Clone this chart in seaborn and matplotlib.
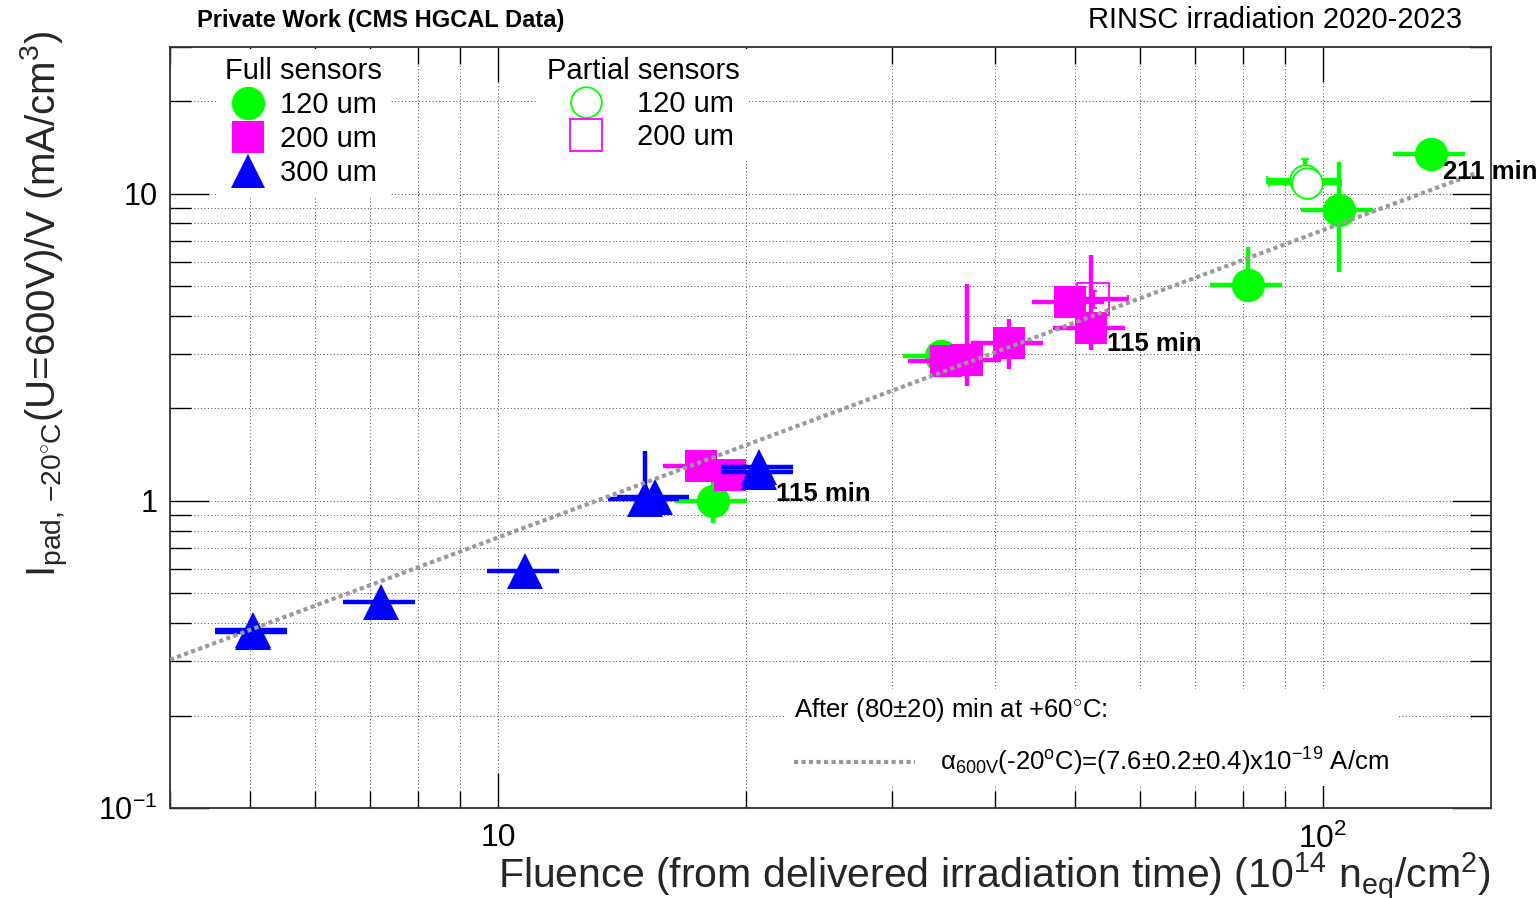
import numpy as np
import matplotlib
matplotlib.use('Agg')
import matplotlib.pyplot as plt
from matplotlib.lines import Line2D
from matplotlib.ticker import LogLocator, NullFormatter, FixedLocator, FixedFormatter
import seaborn as sns

# ---------------- data ----------------
# Full sensors, 120 um (filled green circles)
full120_x = [18.2, 34.4, 81.1, 104.6, 135.2]
full120_y = [1.00, 2.96, 5.03, 8.87, 13.5]
full120_ylo = [0.15, 0.20, 0.40, 3.33, 0.80]
full120_yhi = [0.15, 0.20, 1.67, 3.83, 0.80]

# Full sensors, 200 um (filled magenta squares)
full200_x = [17.6, 19.1, 34.9, 37.0, 41.6, 49.3, 52.3]
full200_y = [1.30, 1.21, 2.85, 2.87, 3.26, 4.43, 3.65]
full200_ylo = [0.08, 0.08, 0.15, 0.51, 0.58, 0.30, 0.55]
full200_yhi = [0.08, 0.08, 0.15, 2.20, 0.64, 0.30, 2.65]

# Full sensors, 300 um (filled blue triangles)
full300_x = [5.04, 5.04, 7.21, 10.78, 15.08, 15.5, 20.7, 20.7]
full300_y = [0.381, 0.374, 0.470, 0.593, 1.015, 1.03, 1.29, 1.24]
full300_ylo = [0.01, 0.01, 0.01, 0.01, 0.03, 0.03, 0.03, 0.03]
full300_yhi = [0.01, 0.01, 0.01, 0.01, 0.435, 0.03, 0.03, 0.03]

# Partial sensors, 120 um (open green circles)
part120_x = [95.2, 95.6]
part120_y = [11.1, 10.8]
part120_ylo = [0.5, 0.5]
part120_yhi = [1.9, 0.5]

# Partial sensors, 200 um (open magenta squares)
part200_x = [52.7]
part200_y = [4.53]
part200_ylo = [0.3]
part200_yhi = [0.3]

# relative fluence uncertainty of every point
fluence_rel_err = 0.10

# fit: alpha_600V = 7.6e-19 A/cm  ->  I/V [mA/cm^3] = 0.076 * Phi [1e14]
fit_x = [4.0, 153.5]
fit_y = [0.304, 11.67]

ann_text = ['211 min', '115 min', '115 min']
ann_x = [140.0, 54.8, 21.7]
ann_y = [11.8, 3.23, 1.053]

x_ticks = [10, 100]
x_ticklabels = ['10', r'$\mathrm{10^{2}}$']
y_ticks = [0.1, 1, 10]
y_ticklabels = [r'$\mathrm{10^{-1}}$', '1', '10']

GREEN = '#00ff00'
MAGENTA = '#ff00ff'
BLUE = '#0000ff'
GRAY = '#999999'

# ---------------- style ----------------
sns.set_theme(style='white')
plt.rcParams['font.family'] = ['Liberation Sans', 'DejaVu Sans']
plt.rcParams['mathtext.fontset'] = 'custom'
plt.rcParams['mathtext.rm'] = 'Liberation Sans'
plt.rcParams['mathtext.it'] = 'Liberation Sans:italic'
plt.rcParams['mathtext.bf'] = 'Liberation Sans:bold'
plt.rcParams['text.color'] = 'black'

fig = plt.figure(figsize=(15.39, 8.98), dpi=100)
ax = fig.add_axes([0.1105, 0.1002, 0.8584, 0.8474])
ax.set_xscale('log')
ax.set_yscale('log')
ax.set_xlim(4, 160)
ax.set_ylim(0.1, 30)


def draw(x, y, ylo, yhi, marker, color, ms, mfc, z, mew=0.0):
    x = np.asarray(x, dtype=float)
    ax.errorbar(x, y, xerr=x * fluence_rel_err, yerr=[ylo, yhi], fmt=marker,
                color=color, ms=ms, mfc=mfc, mec=color, mew=mew,
                elinewidth=3.2, capsize=3, capthick=2, zorder=z, ls='none')


draw(full120_x, full120_y, full120_ylo, full120_yhi, 'o', GREEN, 24, GREEN, 3)
draw(full200_x, full200_y, full200_ylo, full200_yhi, 's', MAGENTA, 23, MAGENTA, 4)
draw(full300_x, full300_y, full300_ylo, full300_yhi, '^', BLUE, 26, BLUE, 5)
draw(part120_x, part120_y, part120_ylo, part120_yhi, 'o', GREEN, 22, 'white', 4.5, mew=1.3)
draw(part200_x, part200_y, part200_ylo, part200_yhi, 's', MAGENTA, 23, 'none', 4.6, mew=1.3)

sns.lineplot(x=fit_x, y=fit_y, ax=ax, color=GRAY, lw=3.0, zorder=7)
ax.lines[-1].set_linestyle((0, (1, 0.8)))

for t, xx, yy in zip(ann_text, ann_x, ann_y):
    ax.text(xx, yy, t, fontsize=18.5, fontweight='bold', ha='left', va='center', zorder=8)

# ---------------- axes ----------------
ax.xaxis.set_major_locator(FixedLocator(x_ticks))
ax.xaxis.set_major_formatter(FixedFormatter(x_ticklabels))
ax.yaxis.set_major_locator(FixedLocator(y_ticks))
ax.yaxis.set_major_formatter(FixedFormatter(y_ticklabels))
for axis in (ax.xaxis, ax.yaxis):
    axis.set_minor_locator(LogLocator(base=10, subs=(2, 3, 4, 5, 6, 7, 8, 9), numticks=30))
    axis.set_minor_formatter(NullFormatter())

ax.tick_params(axis='both', which='both', direction='in', top=True, right=True,
               bottom=True, left=True, colors='black')
ax.tick_params(axis='y', which='major', length=28, width=1, pad=9, labelsize=22)
ax.tick_params(axis='y', which='minor', length=15, width=1)
ax.tick_params(axis='x', which='major', length=25, width=1, pad=11, labelsize=23)
ax.tick_params(axis='x', which='minor', length=12, width=1)

for sp in ax.spines.values():
    sp.set_color('#333333')
    sp.set_linewidth(1.3)

ax.grid(True, which='both', color='black', lw=0.7, ls=(0, (1, 2.5)), alpha=0.7)
ax.set_axisbelow(True)

ax.set_xlabel(r'Fluence (from delivered irradiation time) (10$^{\mathrm{14}}$ n$_{\mathrm{eq}}$/cm$^{\mathrm{2}}$)',
              fontsize=29.5, loc='right')
ax.xaxis.set_label_coords(1.0, -0.055)
ax.set_ylabel(r'I$_{\mathrm{pad,\,{-}20^{\circ}C}}$(U=600V)/V (mA/cm$^{\mathrm{3}}$)',
              fontsize=29, loc='top')
ax.yaxis.set_label_coords(-0.075, 1.022)

# ---------------- legends ----------------
h120 = Line2D([], [], marker='o', ls='none', color=GREEN, ms=24, mew=0)
h200 = Line2D([], [], marker='s', ls='none', color=MAGENTA, ms=23, mew=0)
h300 = Line2D([], [], marker='^', ls='none', color=BLUE, ms=25, mew=0)
o120 = Line2D([], [], marker='o', ls='none', mec=GREEN, mfc='none', ms=22, mew=1.3)
o200 = Line2D([], [], marker='s', ls='none', mec=MAGENTA, mfc='none', ms=23, mew=1.3)
hfit = Line2D([], [], color=GRAY, lw=3.0, ls=(0, (1, 0.8)))


def style_leg(leg):
    fr = leg.get_frame()
    fr.set_facecolor('white')
    fr.set_edgecolor('none')
    fr.set_alpha(1.0)
    leg.set_zorder(9)


leg1 = ax.legend([h120, h200, h300], ['120 um', '200 um', '300 um'], title='Full sensors',
                 loc='upper left', bbox_to_anchor=(0.0348, 0.998), fontsize=21, title_fontsize=21,
                 handlelength=1.23, handletextpad=0.48, labelspacing=0.2, borderpad=0.3,
                 borderaxespad=0, frameon=True, fancybox=False)
style_leg(leg1)
ax.add_artist(leg1)

leg2 = ax.legend([o120, o200], ['120 um', '200 um'], title='Partial sensors',
                 loc='upper left', bbox_to_anchor=(0.2786, 0.998), fontsize=21, title_fontsize=21,
                 handlelength=2.26, handletextpad=0.62, labelspacing=0.17, borderpad=0.3,
                 borderaxespad=0, frameon=True, fancybox=False)
style_leg(leg2)
ax.add_artist(leg2)

leg3 = ax.legend([hfit], [r'α$_{\mathrm{600V}}$(-20$^{\mathrm{o}}$C)=(7.6±0.2±0.4)x10$^{\mathrm{-19}}$ A/cm'],
                 title=r'After (80±20) min at +60$^{\circ}$C:',
                 loc='upper left', bbox_to_anchor=(0.4663, 0.157), fontsize=18.5, title_fontsize=18.5,
                 handlelength=4.7, handletextpad=1.0, labelspacing=0.85, borderpad=0.3,
                 borderaxespad=0, frameon=True, fancybox=False, alignment='left')
style_leg(leg3)

# ---------------- titles ----------------
fig.text(197 / 1539, 1 - 20 / 898, 'Private Work (CMS HGCAL Data)', fontsize=17,
         fontweight='bold', ha='left', va='center')
fig.text(1462 / 1539, 1 - 20 / 898, 'RINSC irradiation 2020-2023', fontsize=21,
         ha='right', va='center')

fig.savefig('out.png', dpi=100)
